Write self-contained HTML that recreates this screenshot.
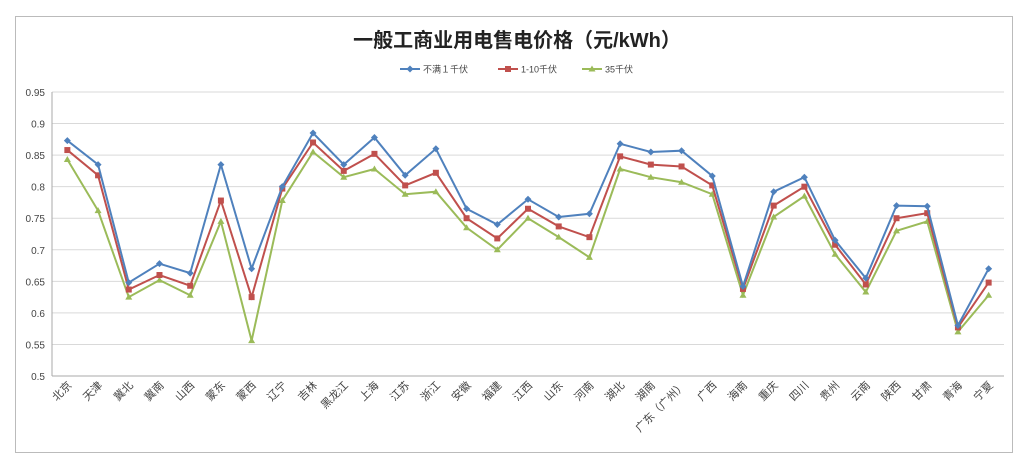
<!DOCTYPE html><html><head><meta charset="utf-8"><style>body{margin:0;background:#fff}svg{display:block}</style></head><body>
<svg id="s" width="1034" height="465" xmlns="http://www.w3.org/2000/svg" font-family="Liberation Sans, Noto Sans CJK SC, sans-serif">
<rect x="15.5" y="16.5" width="997" height="436" fill="#fff" stroke="#bbb"/>
<text x="517" y="47" text-anchor="middle" font-size="20" font-weight="bold" fill="#222">一般工商业用电售电价格（元/kWh）</text>
</svg>
<script>
const s=document.getElementById('s'),ns='http://www.w3.org/2000/svg';
function el(t,a,txt){const e=document.createElementNS(ns,t);for(const k in a)e.setAttribute(k,a[k]);if(txt!=null)e.textContent=txt;s.appendChild(e);return e;}
const L=52,R=1004,T=92,B=376;
const y=v=>B-(v-0.5)/0.45*(B-T);
for(let i=0;i<=9;i++){const v=0.5+i*0.05,yy=y(v);el('line',{x1:L,x2:R,y1:yy,y2:yy,stroke:'#d9d9d9'});el('text',{x:45,y:yy+4,'text-anchor':'end','font-size':10,fill:'#444'},(+v.toFixed(2)).toString());}
el('line',{x1:L,x2:L,y1:T,y2:B,stroke:'#aaa'});el('line',{x1:L,x2:R,y1:B,y2:B,stroke:'#aaa'});
const cats=['北京','天津','冀北','冀南','山西','蒙东','蒙西','辽宁','吉林','黑龙江','上海','江苏','浙江','安徽','福建','江西','山东','河南','湖北','湖南','广东（广州）','广西','海南','重庆','四川','贵州','云南','陕西','甘肃','青海','宁夏'];
const b=[0.873,0.835,0.648,0.678,0.663,0.835,0.67,0.8,0.885,0.835,0.878,0.818,0.86,0.765,0.74,0.78,0.752,0.757,0.868,0.855,0.857,0.817,0.642,0.792,0.815,0.715,0.655,0.77,0.769,0.58,0.67];
const r=[0.858,0.818,0.637,0.66,0.643,0.778,0.625,0.797,0.87,0.825,0.852,0.802,0.822,0.75,0.718,0.765,0.737,0.72,0.848,0.835,0.832,0.802,0.638,0.77,0.8,0.708,0.645,0.75,0.758,0.577,0.648];
const g=[0.843,0.762,0.625,0.652,0.628,0.745,0.556,0.778,0.855,0.815,0.828,0.788,0.792,0.735,0.7,0.75,0.72,0.688,0.828,0.815,0.807,0.788,0.628,0.752,0.785,0.693,0.633,0.73,0.745,0.57,0.628];
const w=(R-L)/31,x=i=>L+w*(i+0.5);
cats.forEach((c,i)=>{el('text',{x:x(i)+5,y:386,'text-anchor':'end','font-size':11,fill:'#444',transform:`rotate(-45 ${x(i)+5} 386)`},c);});
function series(d,col,mk){el('polyline',{points:d.map((v,i)=>x(i)+','+y(v)).join(' '),fill:'none',stroke:col,'stroke-width':2});
d.forEach((v,i)=>{const X=x(i),Y=y(v);if(mk=='d')el('polygon',{points:`${X},${Y-3.5} ${X+3.5},${Y} ${X},${Y+3.5} ${X-3.5},${Y}`,fill:col});else if(mk=='s')el('rect',{x:X-3,y:Y-3,width:6,height:6,fill:col});else el('polygon',{points:`${X},${Y-3.5} ${X+3.5},${Y+2.5} ${X-3.5},${Y+2.5}`,fill:col});});}
series(g,'#9bbb59','t');series(r,'#c0504d','s');series(b,'#4f81bd','d');
const lg=[[400,'#4f81bd','d','不满１千伏'],[498,'#c0504d','s','1-10千伏'],[582,'#9bbb59','t','35千伏']];
lg.forEach(([lx,col,mk,t])=>{el('line',{x1:lx,x2:lx+20,y1:69,y2:69,stroke:col,'stroke-width':2});
if(mk=='d')el('polygon',{points:`${lx+10},65.5 ${lx+13.5},69 ${lx+10},72.5 ${lx+6.5},69`,fill:col});else if(mk=='s')el('rect',{x:lx+7,y:66,width:6,height:6,fill:col});else el('polygon',{points:`${lx+10},65.5 ${lx+13.5},71.5 ${lx+6.5},71.5`,fill:col});
el('text',{x:lx+23,y:72.5,'font-size':9,fill:'#444'},t);});
</script>
</body></html>
